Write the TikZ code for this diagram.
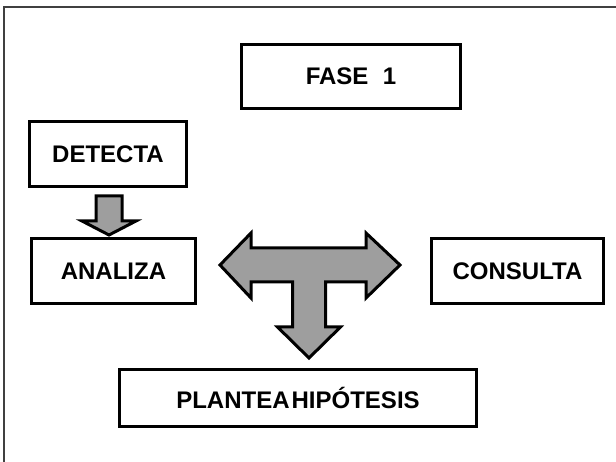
\documentclass[tikz,border=0pt]{standalone}
\usepackage{fontspec}
\setsansfont{Liberation Sans}
\usetikzlibrary{calc}

\tikzset{
  caja/.style={draw, line width=3pt, fill=white, inner sep=0pt,
    font=\sffamily\bfseries\fontsize{24}{28}\selectfont},
  flecha/.style={draw, line width=3pt, fill=black!38, line join=miter},
}

\begin{document}
\begin{tikzpicture}[x=1pt,y=-1pt]
  \useasboundingbox (0,0) rectangle (616,462);

  % Marco
  \draw[line width=1.2pt, black!75] (4,462) -- (4,7) -- (616,7);

  % Cajas
  \node[caja, minimum width=219pt, minimum height=64pt] (fase) at (351,76.5) {FASE\hspace{0.6em}1};
  \node[caja, minimum width=157pt, minimum height=65pt] (detecta) at (108,154) {DETECTA};
  \node[caja, minimum width=164pt, minimum height=65pt] (analiza) at (113.5,271) {ANALIZA};
  \node[caja, minimum width=172pt, minimum height=65pt] (consulta) at (517.5,271) {CONSULTA};
  \node[caja, minimum width=357pt, minimum height=57pt] (plantea) at (298,398) {PLANTEA\hspace{2pt}HIPÓTESIS};

  % Flecha de DETECTA a ANALIZA
  \coordinate (punta) at ($(detecta.south |- analiza.north)+(1,-2)$);
  \draw[flecha] ($(detecta.south)+(-12,8)$) -- ($(detecta.south)+(14,8)$)
    -- ($(punta)+(13,-14)$) -- ($(punta)+(27,-14)$) -- (punta)
    -- ($(punta)+(-27,-14)$) -- ($(punta)+(-13,-14)$) -- cycle;

  % Flecha en T
  \coordinate (t) at (309,265);
  \draw[flecha] ($(t)+(-89,0)$) -- ($(t)+(-58,-32)$) -- ($(t)+(-58,-17)$)
    -- ($(t)+(57,-17)$) -- ($(t)+(57,-32)$) -- ($(t)+(91,0)$)
    -- ($(t)+(57,33)$) -- ($(t)+(57,17)$) -- ($(t)+(16.5,17)$)
    -- ($(t)+(16.5,62)$) -- ($(t)+(31.5,62)$) -- ($(t)+(0,93)$)
    -- ($(t)+(-31.5,62)$) -- ($(t)+(-16.5,62)$) -- ($(t)+(-16.5,17)$)
    -- ($(t)+(-58,17)$) -- ($(t)+(-58,33)$) -- cycle;

\end{tikzpicture}
\end{document}
